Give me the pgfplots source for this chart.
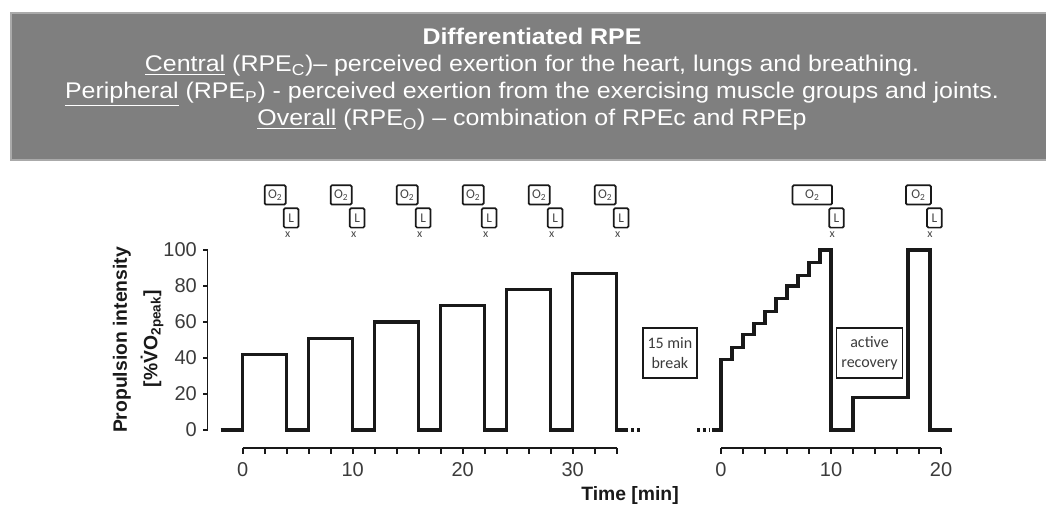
\documentclass[border=0pt]{standalone}
\usepackage{pgfplots}
\pgfplotsset{compat=1.18}
\usepackage{fontspec}
\setmainfont{Liberation Sans}
\newfontfamily\calfont{Carlito}
\newfontfamily\bannerfont[FakeStretch=1.1]{Liberation Sans}
\definecolor{banner}{RGB}{127,127,127}
\definecolor{bannerline}{RGB}{170,170,170}
\definecolor{ink}{RGB}{25,25,25}

\begin{document}
\begin{tikzpicture}[
    o2/.style={draw=ink, line width=1.3pt, rounded corners=1pt, minimum width=15.75pt,
        minimum height=14.5pt, inner sep=0pt, text=ink!80, font=\calfont\fontsize{10}{11}\selectfont},
    lbox/.style={o2, minimum width=11pt},
    xmark/.style={inner sep=0pt, text=ink!80, font=\calfont\fontsize{9}{10}\selectfont},
    infobox/.style={draw=ink, line width=1.1pt, minimum height=37.5pt, align=center,
        inner sep=1pt, text=ink!85, font=\calfont\fontsize{12}{15}\selectfont},
    tlab/.style={inner sep=0pt, text=ink!85, font=\fontsize{15}{18}\selectfont},
    stairs/.style={const plot, ink, line width=2.5pt},
    btext/.style={white, anchor=base, font=\bannerfont\fontsize{17}{20}\selectfont},
]
\path[use as bounding box] (0,0) rectangle (784.5pt,379.5pt);

% banner
\draw[bannerline, fill=banner, line width=0.8pt] (8.25pt,259.5pt) rectangle (790pt,369.75pt);
\node[btext, font=\bannerfont\bfseries\fontsize{17}{20}\selectfont] at (399pt,345.75pt) {Differentiated RPE};
\node[btext] at (399pt,325.5pt)
    {\underline{Central} (RPE\textsubscript{C})– perceived exertion for the heart, lungs and breathing.};
\node[btext] at (399pt,305.25pt)
    {\underline{Peripheral} (RPE\textsubscript{P}) - perceived exertion from the exercising muscle groups and joints.};
\node[btext] at (399pt,285pt)
    {\underline{Overall} (RPE\textsubscript{O}) – combination of RPEc and RPEp};

% left panel: interval stages
\begin{axis}[at={(155.625pt,43.5pt)}, anchor=south west, scale only axis,
    width=331.65pt, height=162pt, xmin=-3.2, xmax=37, ymin=-10, ymax=110,
    hide axis, clip=false]
\addplot[stairs] coordinates {
    (-2,0) (0,42) (4,0) (6,51) (10,0) (12,60) (16,0) (18,69) (22,0) (24,78) (28,0) (30,87) (34,0) (35,0)};
\addplot[ink, line width=2.5pt, dash pattern=on 2.2pt off 2.2pt] coordinates {(35.3,0) (36.3,0)};

% range frame
\draw[ink, line width=1.4pt] (axis cs:-3.2,0) -- (axis cs:-3.2,100);
\pgfplotsinvokeforeach{0,20,40,60,80,100}{
    \draw[ink, line width=1.4pt] (axis cs:-3.2,#1) -- (axis cs:-3.6,#1);
    \node[tlab, anchor=east] at (axis cs:-4.15,#1) {#1};
}
\draw[ink, line width=1.4pt] (axis cs:0,-10) -- (axis cs:34,-10);
\pgfplotsinvokeforeach{0,2,4,6,8,10,12,14,16,18,20,22,24,26,28,30,32,34}{
    \draw[ink, line width=1.4pt] (axis cs:#1,-10) -- (axis cs:#1,-13.5);
}
\pgfplotsinvokeforeach{0,10,20,30}{
    \node[tlab] at (axis cs:#1,-22.2) {#1};
}

% sampling marks
\pgfplotsinvokeforeach{4,10,16,22,28,34}{
    \node[o2] at (axis cs:#1-1.05,130.6) {O\textsubscript{2}};
    \node[lbox] at (axis cs:#1+0.4,117.8) {L};
    \node[xmark] at (axis cs:#1+0.1,108.3) {x};
}
\end{axis}

% right panel: incremental test and sprint
\begin{axis}[at={(474.75pt,43.5pt)}, anchor=south west, scale only axis,
    width=247.5pt, height=162pt, xmin=-8, xmax=22, ymin=-10, ymax=110,
    hide axis, clip=false]
\addplot[ink, line width=2.5pt, dash pattern=on 2.2pt off 2.2pt] coordinates {(-2.2,0) (-1.0,0)};
\addplot[stairs] coordinates {
    (-0.8,0) (0,39) (1,46) (2,53) (3,59) (4,66) (5,73) (6,80) (7,86) (8,93) (9,100)
    (10,0) (12,18) (17,100) (19,0) (21,0)};

\draw[ink, line width=1.4pt] (axis cs:0,-10) -- (axis cs:20,-10);
\pgfplotsinvokeforeach{0,2,4,6,8,10,12,14,16,18,20}{
    \draw[ink, line width=1.4pt] (axis cs:#1,-10) -- (axis cs:#1,-13.5);
}
\pgfplotsinvokeforeach{0,10,20}{
    \node[tlab] at (axis cs:#1,-22.2) {#1};
}

\node[infobox, minimum width=40.5pt] at (axis cs:-4.65,42.8) {15 min\\break};
\node[infobox, minimum width=49.5pt] at (axis cs:13.5,42.8) {active\\recovery};

\node[o2, minimum width=29.7pt] at (axis cs:8.3,130.6) {O\textsubscript{2}};
\node[lbox] at (axis cs:10.5,117.8) {L};
\node[xmark] at (axis cs:10.1,108.3) {x};
\node[o2, minimum width=18.75pt] at (axis cs:17.95,130.6) {O\textsubscript{2}};
\node[lbox] at (axis cs:19.4,117.8) {L};
\node[xmark] at (axis cs:19.0,108.3) {x};
\end{axis}

% axis titles
\node[rotate=90, text=ink, font=\bfseries\fontsize{14.5}{17}\selectfont] at (91.5pt,124.5pt) {Propulsion intensity};
\node[rotate=90, text=ink, font=\bfseries\fontsize{14.5}{17}\selectfont] at (114pt,125.6pt) {[\%\.{V}O\textsubscript{2peak}]};
\node[text=ink, font=\bfseries\fontsize{14.5}{17}\selectfont] at (472.5pt,7.5pt) {Time [min]};
\end{tikzpicture}
\end{document}
